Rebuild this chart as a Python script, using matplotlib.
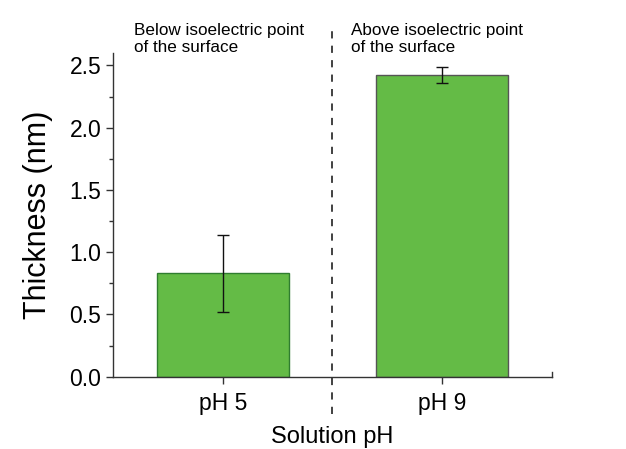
import matplotlib.pyplot as plt
from matplotlib.ticker import MultipleLocator

categories = ["pH 5", "pH 9"]
thickness = [0.83, 2.42]
errors = [0.31, 0.065]
notes = ["Below isoelectric point\nof the surface", "Above isoelectric point\nof the surface"]

plt.rcParams["font.family"] = ["Liberation Sans", "DejaVu Sans"]

fig = plt.figure(figsize=(6.26, 4.49), dpi=100)
ax = fig.add_axes([0.1805, 0.161, 0.701, 0.721])

x = [1, 2]
ax.bar(x, thickness, width=0.6, color="#64bb46", edgecolor=["#2f7d2f", "#555555"], linewidth=1.0)
ax.errorbar(x, thickness, yerr=errors, fmt="none", ecolor="#111111", elinewidth=1.0, capsize=4, capthick=1.0)

ax.set_xlim(0.5, 2.5)
ax.set_ylim(0, 2.6)
ax.set_xticks(x)
ax.set_xticklabels(categories)
ax.yaxis.set_major_locator(MultipleLocator(0.5))
ax.yaxis.set_minor_locator(MultipleLocator(0.25))
ax.yaxis.set_major_formatter(plt.FormatStrFormatter("%.1f"))

for s in ["top", "right"]:
    ax.spines[s].set_visible(False)
for s in ["left", "bottom"]:
    ax.spines[s].set_color("#333333")
    ax.spines[s].set_linewidth(1.0)

ax.tick_params(axis="both", which="major", direction="out", length=5, width=1, color="#333333", labelsize=16.5)
ax.tick_params(axis="y", which="minor", direction="out", length=3, width=1, color="#333333")
ax.tick_params(axis="x", pad=6)

# end tick on the right of the x axis
ax.plot([2.5, 2.5], [0, 0.04], color="#333333", lw=1, clip_on=False)

# divider between the two regimes
ax.plot([1.5, 1.5], [-0.3, 2.8], color="#333333", lw=1.3, ls=(0, (4, 4)), clip_on=False)

ax.text(0.596, 2.84, notes[0], fontsize=12.3, va="top", ha="left", linespacing=1.2)
ax.text(1.583, 2.84, notes[1], fontsize=12.3, va="top", ha="left", linespacing=1.2)

ax.set_ylabel("Thickness (nm)", fontsize=22, labelpad=12)
fig.text(0.531, 0.002, "Solution pH", fontsize=17, ha="center", va="bottom")

fig.savefig("out.png", dpi=100)
